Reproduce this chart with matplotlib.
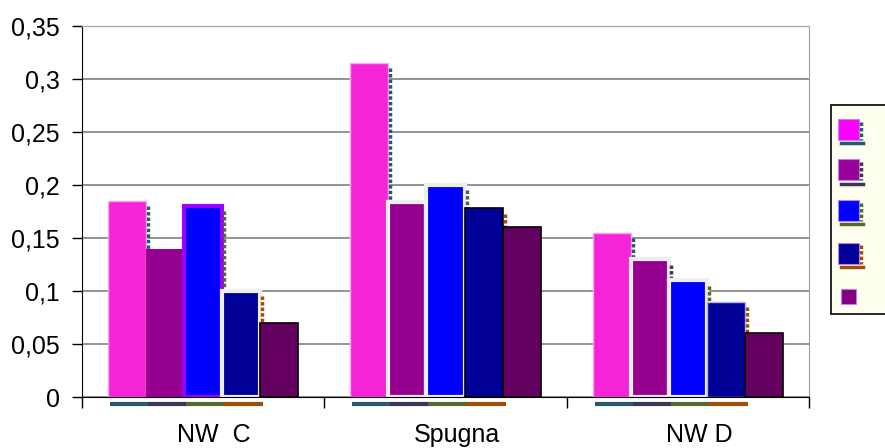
import matplotlib

matplotlib.use("Agg")
import matplotlib.pyplot as plt
from matplotlib.patches import Rectangle
from matplotlib.lines import Line2D
from matplotlib.transforms import ScaledTranslation
import numpy as np

plt.rcParams["font.family"] = ["Liberation Sans", "DejaVu Sans"]

categories = ["NW  C", "Spugna", "NW D"]
series_1 = [0.185, 0.315, 0.155]
series_2 = [0.14, 0.184, 0.13]
series_3 = [0.18, 0.2, 0.11]
series_4 = [0.1, 0.178, 0.09]
series_5 = [0.07, 0.16, 0.06]
y_ticks = [0, 0.05, 0.1, 0.15, 0.2, 0.25, 0.3, 0.35]
y_tick_labels = ["0", "0,05", "0,1", "0,15", "0,2", "0,25", "0,3", "0,35"]

all_series = [series_1, series_2, series_3, series_4, series_5]
bar_colors = ["#F524D6", "#960090", "#0000FF", "#000096", "#640060"]
legend_colors = ["#FF00FF", "#990099", "#0000FF", "#000099", "#800080"]
shadow_colors = ["#25596B", "#3D3557", "#4F6B2B", "#A04F0B", None]
# Excel's odd bar frames, one per category
edge_colors = [
    ["#F8A8EE", "#F8A8EE", "#F8A8EE"],
    ["#960090", "#EEEEEE", "#EEEEEE"],
    ["#9900FF", "#EEEEEE", "#EEEEEE"],
    ["#EEEEEE", "#000000", "#B0B0FF"],
    ["#000000", "#000000", "#000000"],
]
edge_widths = [
    [1, 1, 1],
    [0, 3, 3],
    [3, 3, 3],
    [3, 1.2, 1],
    [1.2, 1.2, 1.2],
]

fig = plt.figure(figsize=(8.85, 4.48), dpi=100)
ax = fig.add_axes([82 / 885, 1 - 397 / 448, (809 - 82) / 885, (397 - 26) / 448])

x = np.arange(len(categories)) + 0.5
w = 0.157
px = 1.0 / 242  # one pixel in category units
for i, vals in enumerate(all_series):
    xs = x + (i - 2) * w
    for j, v in enumerate(vals):
        ax.bar(xs[j], v, width=w, color=bar_colors[i], edgecolor=edge_colors[i][j],
               linewidth=edge_widths[i][j], zorder=3 + 2 * i)
    if shadow_colors[i] is not None:
        for j, v in enumerate(vals):
            xr = xs[j] + w / 2 + 2 * px
            ax.plot([xr, xr], [v - 0.005, 0], color=shadow_colors[i], lw=2.5,
                    linestyle=(0, (1, 0.6)), zorder=2 + 2 * i + 2)
            ax.plot([xs[j] - w / 2 + 2 * px, xs[j] + w / 2 + 3 * px], [-0.0068, -0.0068],
                    color=shadow_colors[i], lw=3, solid_capstyle="butt", clip_on=False, zorder=3)

ax.set_xlim(0, 3)
ax.set_ylim(0, 0.35)
ax.set_yticks(y_ticks)
ax.set_yticklabels(y_tick_labels)
ax.set_xticks([0, 1, 2, 3])
ax.set_xticklabels([])
ax.set_xticks(x, minor=True)
ax.set_xticklabels(categories, minor=True)
ax.tick_params(axis="x", which="major", direction="out", length=8, width=1, color="black")
ax.tick_params(axis="x", which="minor", length=0, pad=19, labelsize=18)
ax.tick_params(axis="y", direction="out", length=7, width=1, pad=9, labelsize=18, color="black")
shift = ScaledTranslation(11 / 100, 0, fig.dpi_scale_trans)
for lab in ax.xaxis.get_minorticklabels():
    lab.set_transform(lab.get_transform() + shift)
ax.yaxis.grid(True, color="#808080", lw=1.2)
ax.set_axisbelow(True)
for side in ["top", "right"]:
    ax.spines[side].set_color("#A0A0A0")
ax.spines["left"].set_color("black")
ax.spines["bottom"].set_color("black")
ax.spines["bottom"].set_zorder(20)

# legend box without labels
def fx(p):
    return p / 885


def fy(p):
    return 1 - p / 448


fig.add_artist(Rectangle((fx(831), fy(314)), fx(60), 209 / 448, transform=fig.transFigure,
                         facecolor="#FFFFF0", edgecolor="black", lw=1.2))
centers = [129, 170, 211, 253, 296]
for i, cy in enumerate(centers):
    size = 21 if i < 4 else 15
    x0 = 838 if i < 4 else 841
    if shadow_colors[i] is not None:
        fig.add_artist(Line2D([fx(x0 + size + 2), fx(x0 + size + 2)], [fy(cy - size / 2 + 3), fy(cy + size / 2)],
                              transform=fig.transFigure, color=shadow_colors[i], lw=2.5,
                              linestyle=(0, (1, 0.6))))
        fig.add_artist(Line2D([fx(x0 + 3), fx(x0 + size + 4)], [fy(cy + size / 2 + 3), fy(cy + size / 2 + 3)],
                              transform=fig.transFigure, color=shadow_colors[i], lw=2.5))
    fig.add_artist(Rectangle((fx(x0), fy(cy + size / 2)), fx(size), size / 448, transform=fig.transFigure,
                             facecolor=legend_colors[i], edgecolor="#C080F0", lw=0.8))

fig.savefig("out.png", dpi=100)
